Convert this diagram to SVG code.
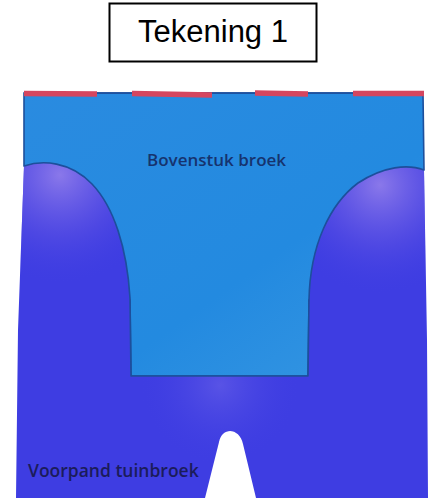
<svg xmlns="http://www.w3.org/2000/svg" width="439" height="502" viewBox="0 0 439 502">
<style>
.title{font-family:"Liberation Sans",Arial,sans-serif;font-size:31px;fill:#000}
.lbl{font-family:"Open Sans","Noto Sans",sans-serif;font-size:17px;font-weight:600}
.edge{fill:none;stroke:#1d4f9c;stroke-width:1.6;stroke-linejoin:round}
.seam{fill:none;stroke:#d5465f;stroke-width:5.5;stroke-linecap:butt}
</style>
<defs>
<linearGradient id="lb" x1="0" y1="0" x2="1" y2="1">
<stop offset="0" stop-color="#2a8be0"/>
<stop offset="0.6" stop-color="#238ae0"/>
<stop offset="1" stop-color="#3797e2"/>
</linearGradient>
<radialGradient id="hlL" cx="60" cy="175" r="110" gradientUnits="userSpaceOnUse">
<stop offset="0" stop-color="#8a78ea"/>
<stop offset="0.55" stop-color="#5a50e4" stop-opacity="0.6"/>
<stop offset="1" stop-color="#3e3de2" stop-opacity="0"/>
</radialGradient>
<radialGradient id="hlR" cx="380" cy="185" r="110" gradientUnits="userSpaceOnUse">
<stop offset="0" stop-color="#8a78ea"/>
<stop offset="0.55" stop-color="#5a50e4" stop-opacity="0.6"/>
<stop offset="1" stop-color="#3e3de2" stop-opacity="0"/>
</radialGradient>
<radialGradient id="hlB" cx="220" cy="385" r="80" gradientUnits="userSpaceOnUse">
<stop offset="0" stop-color="#6a62e8" stop-opacity="0.6"/>
<stop offset="1" stop-color="#3e3de2" stop-opacity="0"/>
</radialGradient>
</defs>

<g id="title">
<rect x="109.5" y="3.5" width="207" height="58" fill="#fff" stroke="#000" stroke-width="2"/>
<text class="title" x="213" y="42" text-anchor="middle">Tekening 1</text>
</g>

<g id="bovenstuk">
<path d="M24,93 L423,93 L424,170 L309,300 L308,376 L131,376 L130,300 L24,166 Z" fill="url(#lb)" stroke="#1d4f9c" stroke-width="1.6"/>
<path class="edge" d="M24,93 L423,93"/>
<path class="seam" d="M24,93.5 L97,94 M132,93.5 L212,95 M255,93 L308,94 M353,93.5 L424,93.5"/>
</g>

<g id="voorpand">
<path d="M24,166 C42,160 70,161 92,184 C114,207 127,248 130,298 L131,376 L308,376 L309,300 C310,245 330,204 358,183 C384,166 408,164 424,170 L427,340 L428,498 L256,498 L243,444 C240,428 222,426 219,442 L205,498 L16,498 L18,330 Z" fill="#3e3de2"/>
<path d="M24,166 C42,160 70,161 92,184 C114,207 127,248 130,298 L131,376 L18,376 L18,330 Z" fill="url(#hlL)"/>
<path d="M308,376 L309,300 C310,245 330,204 358,183 C384,166 408,164 424,170 L427,376 Z" fill="url(#hlR)"/>
<path d="M24,166 C42,160 70,161 92,184 C114,207 127,248 130,298 L131,376 L308,376 L309,300 C310,245 330,204 358,183 C384,166 408,164 424,170 L427,340 L428,498 L256,498 L243,444 C240,428 222,426 219,442 L205,498 L16,498 L18,330 Z" fill="url(#hlB)"/>
<path class="edge" d="M24,166 C42,160 70,161 92,184 C114,207 127,248 130,298 L131,376 L308,376 L309,300 C310,245 330,204 358,183 C384,166 408,164 424,170" stroke="#1f3fa8"/>
</g>

<g id="labels">
<text class="lbl" x="147" y="166" fill="#16336e">Bovenstuk broek</text>
<text class="lbl" x="28" y="477" fill="#1b1c5a" style="font-size:17.5px">Voorpand tuinbroek</text>
</g>
</svg>
